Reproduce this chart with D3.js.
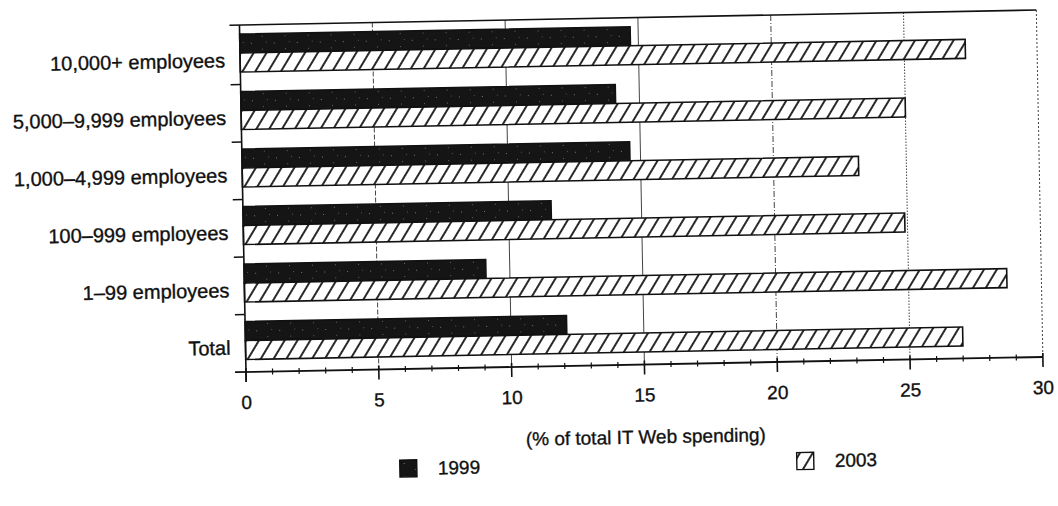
<!DOCTYPE html>
<html lang="en">
<head>
  <meta charset="UTF-8">
  <title>IT Web Spending by Company Size</title>
  <script src="https://d3js.org/d3.v7.min.js"></script>
  <style>
    body {
      margin: 0;
      background-color: #ffffff;
    }
    svg {
      display: block;
      font-family: "Liberation Sans", Arial, sans-serif;
    }
    text {
      fill: #111;
      stroke: #111;
      stroke-width: 0.35px;
    }
  </style>
</head>
<body>
  <svg id="chart" width="1058" height="506"></svg>

  <script>
    const categories = [
      "10,000+ employees",
      "5,000–9,999 employees",
      "1,000–4,999 employees",
      "100–999 employees",
      "1–99 employees",
      "Total"
    ];
    const years = ["1999", "2003"];
    const values1999 = [14.7, 14.1, 14.6, 11.6, 9.1, 12.1];
    const values2003 = [27.3, 25.0, 23.2, 24.9, 28.7, 27.0];
    const xTicks = [0, 5, 10, 15, 20, 25, 30];
    const axisTitle = "(% of total IT Web spending)";

    const width = 1058;
    const height = 506;
    const plotLeft = 246, plotRight = 1043, plotTop = 25, plotBottom = 372;

    const svg = d3.select("#chart").attr("viewBox", `0 0 ${width} ${height}`);

    const defs = svg.append("defs");
    const hatch = defs.append("pattern")
      .attr("id", "hatch")
      .attr("patternUnits", "userSpaceOnUse")
      .attr("width", 11)
      .attr("height", 11)
      .attr("patternTransform", "rotate(32)");
    hatch.append("rect").attr("width", 11).attr("height", 11).attr("fill", "#fff");
    hatch.append("line")
      .attr("x1", 3).attr("y1", 0).attr("x2", 3).attr("y2", 11)
      .attr("stroke", "#111").attr("stroke-width", 1.8);

    // dark screen of the 1999 bars, with a few light specks like the print
    const screen = defs.append("pattern")
      .attr("id", "screen")
      .attr("patternUnits", "userSpaceOnUse")
      .attr("width", 23)
      .attr("height", 13);
    screen.append("rect").attr("width", 23).attr("height", 13).attr("fill", "#151515");
    screen.append("rect").attr("x", 4).attr("y", 3).attr("width", 1).attr("height", 1).attr("fill", "#777");
    screen.append("rect").attr("x", 15).attr("y", 9).attr("width", 1).attr("height", 1).attr("fill", "#666");
    screen.append("rect").attr("x", 19).attr("y", 2).attr("width", 1).attr("height", 1).attr("fill", "#555");

    // the scanned page is tilted a little, so the whole chart is too
    const g = svg.append("g").attr("transform", `rotate(-1.08, ${plotLeft}, ${plotBottom})`);

    const x = d3.scaleLinear().domain([0, 30]).range([plotLeft, plotRight]);
    const y0 = d3.scaleBand().domain(categories).range([plotTop + 2, plotBottom]);
    const y1 = d3.scaleBand().domain(years).range([7, 45]);

    const rows = categories.map((c, i) => ({ cat: c, values: [values1999[i], values2003[i]] }));

    // grid lines
    const dash = { 5: "5,2", 10: null, 15: null, 20: "6,2,1,2", 25: "1.5,1.5", 30: "2,2" };
    g.selectAll(".grid")
      .data(xTicks.filter((t) => t > 0))
      .enter()
      .append("line")
      .attr("class", "grid")
      .attr("x1", (d) => x(d)).attr("x2", (d) => x(d))
      .attr("y1", plotTop).attr("y2", plotBottom)
      .attr("stroke", "#444")
      .attr("stroke-width", 1)
      .attr("stroke-dasharray", (d) => dash[d]);

    // top frame line
    g.append("line")
      .attr("x1", plotLeft - 10).attr("x2", plotRight)
      .attr("y1", plotTop).attr("y2", plotTop)
      .attr("stroke", "#111").attr("stroke-width", 1.6);

    // bars
    const groups = g.selectAll(".group")
      .data(rows)
      .enter()
      .append("g")
      .attr("class", "group")
      .attr("transform", (d) => `translate(0, ${y0(d.cat)})`);

    groups.selectAll("rect")
      .data((d) => d.values.map((v, i) => ({ year: years[i], value: v })))
      .enter()
      .append("rect")
      .attr("x", x(0))
      .attr("y", (d) => y1(d.year))
      .attr("width", (d) => x(d.value) - x(0))
      .attr("height", y1.bandwidth())
      .attr("fill", (d) => (d.year === "1999" ? "url(#screen)" : "url(#hatch)"))
      .attr("stroke", "#111")
      .attr("stroke-width", 1.6);

    // y axis
    g.append("line")
      .attr("x1", plotLeft).attr("x2", plotLeft)
      .attr("y1", plotTop).attr("y2", plotBottom + 10)
      .attr("stroke", "#111").attr("stroke-width", 1.6);

    g.selectAll(".ytick")
      .data(categories.slice(1))
      .enter()
      .append("line")
      .attr("class", "ytick")
      .attr("x1", plotLeft - 10).attr("x2", plotLeft)
      .attr("y1", (d) => y0(d)).attr("y2", (d) => y0(d))
      .attr("stroke", "#111").attr("stroke-width", 1.6);

    g.selectAll(".ylabel")
      .data(categories)
      .enter()
      .append("text")
      .attr("class", "ylabel")
      .attr("x", plotLeft - 15)
      .attr("y", (d) => y0(d) + 40)
      .attr("text-anchor", "end")
      .attr("font-size", 20)
      .text((d) => d);

    // x axis
    g.append("line")
      .attr("x1", plotLeft - 11).attr("x2", plotRight)
      .attr("y1", plotBottom).attr("y2", plotBottom)
      .attr("stroke", "#111").attr("stroke-width", 1.8);

    g.selectAll(".minor")
      .data(d3.range(1, 30).filter((v) => v % 5 !== 0))
      .enter()
      .append("line")
      .attr("class", "minor")
      .attr("x1", (d) => x(d)).attr("x2", (d) => x(d))
      .attr("y1", plotBottom - 3).attr("y2", plotBottom + 3)
      .attr("stroke", "#111").attr("stroke-width", 1.2);

    g.selectAll(".major")
      .data(xTicks)
      .enter()
      .append("line")
      .attr("class", "major")
      .attr("x1", (d) => x(d)).attr("x2", (d) => x(d))
      .attr("y1", plotBottom - 4).attr("y2", plotBottom + 10)
      .attr("stroke", "#111").attr("stroke-width", 1.6);

    g.selectAll(".xlabel")
      .data(xTicks)
      .enter()
      .append("text")
      .attr("class", "xlabel")
      .attr("x", (d) => x(d))
      .attr("y", plotBottom + 37)
      .attr("text-anchor", "middle")
      .attr("font-size", 19)
      .text((d) => d);

    g.append("text")
      .attr("x", (plotLeft + plotRight) / 2)
      .attr("y", plotBottom + 79)
      .attr("text-anchor", "middle")
      .attr("font-size", 19)
      .text(axisTitle);

    // legend
    const legendX = { "1999": 398, "2003": 795 };
    const legend = g.selectAll(".legend")
      .data(years)
      .enter()
      .append("g")
      .attr("class", "legend")
      .attr("transform", (d) => `translate(${legendX[d]}, ${plotBottom + 91})`);

    legend.append("rect")
      .attr("width", 17)
      .attr("height", 17)
      .attr("fill", (d) => (d === "1999" ? "url(#screen)" : "url(#hatch)"))
      .attr("stroke", "#111")
      .attr("stroke-width", 1.4);

    legend.append("text")
      .attr("x", 38)
      .attr("y", 15)
      .attr("font-size", 19)
      .text((d) => d);
  </script>
</body>
</html>
